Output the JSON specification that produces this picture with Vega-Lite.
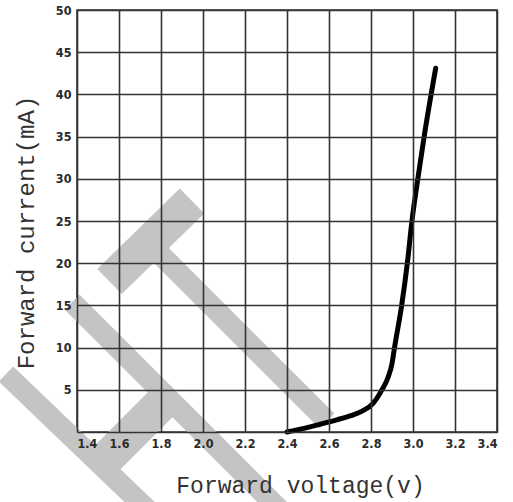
{
  "$schema": "https://vega.github.io/schema/vega-lite/v6.json",
  "width": 420,
  "height": 422,
  "autosize": {"type": "none"},
  "padding": {"left": 77, "top": 10, "right": 16, "bottom": 70},
  "background": "white",
  "config": {
    "view": {"stroke": "#333333", "strokeWidth": 1.6},
    "axis": {
      "grid": true,
      "gridColor": "#333333",
      "gridWidth": 1.6,
      "gridOpacity": 1,
      "domain": false,
      "ticks": false,
      "tickSize": 0,
      "labelFont": "DejaVu Sans Condensed",
      "labelFontSize": 12.5,
      "labelFontWeight": "bold",
      "labelColor": "#2a2a2a",
      "titleFont": "Liberation Mono",
      "titleFontWeight": "normal",
      "titleColor": "#333333"
    }
  },
  "datasets": {
    "curve": [
      {"voltage": 2.40, "current": 0.0},
      {"voltage": 2.50, "current": 0.55},
      {"voltage": 2.60, "current": 1.2},
      {"voltage": 2.70, "current": 1.9},
      {"voltage": 2.76, "current": 2.5},
      {"voltage": 2.81, "current": 3.4},
      {"voltage": 2.85, "current": 4.9},
      {"voltage": 2.88, "current": 6.4},
      {"voltage": 2.90, "current": 8.1},
      {"voltage": 2.912, "current": 10},
      {"voltage": 2.946, "current": 15},
      {"voltage": 2.973, "current": 20},
      {"voltage": 2.995, "current": 25},
      {"voltage": 3.023, "current": 30},
      {"voltage": 3.053, "current": 35},
      {"voltage": 3.108, "current": 43.1}
    ],
    "watermark": [
      {"part": "band", "x": 1.7464, "y": 22.30, "x2": 2.5905, "y2": 1.30},
      {"part": "band", "x": 1.0619, "y": 6.87, "x2": 1.7476, "y2": -9.48},
      {"part": "band", "x": 1.3762, "y": 15.40, "x2": 2.3905, "y2": -9.83},
      {"part": "bar", "x": 1.5548, "y": 17.83, "x2": 1.9476, "y2": 27.37},
      {"part": "bar", "x": 1.5024, "y": -4.09, "x2": 1.8310, "y2": 4.09}
    ]
  },
  "encoding": {
    "x": {
      "field": "voltage",
      "type": "quantitative",
      "scale": {"domain": [1.4, 3.4], "nice": false, "zero": false},
      "axis": {
        "zindex": 2,
        "values": [1.4, 1.6, 1.8, 2.0, 2.2, 2.4, 2.6, 2.8, 3.0, 3.2, 3.4],
        "format": ".1f",
        "labelPadding": 5,
        "title": "Forward voltage(v)",
        "titleFontSize": 23,
        "titleX": 223,
        "titleY": 60,
        "titleAlign": "center",
        "titleBaseline": "alphabetic"
      }
    },
    "y": {
      "field": "current",
      "type": "quantitative",
      "scale": {"domain": [0, 50], "nice": false},
      "axis": {
        "zindex": 2,
        "values": [0, 5, 10, 15, 20, 25, 30, 35, 40, 45, 50],
        "labelExpr": "datum.value == 0 ? '' : datum.label",
        "labelPadding": 6,
        "title": "Forward current(mA)",
        "titleFontSize": 24,
        "titleAngle": -90,
        "titleX": -51,
        "titleY": 222,
        "titleAlign": "center",
        "titleBaseline": "middle"
      }
    }
  },
  "layer": [
    {
      "data": {"name": "watermark"},
      "transform": [{"filter": "datum.part == 'band'"}],
      "mark": {"type": "rule", "color": "#c4c4c4", "strokeWidth": 21, "strokeCap": "butt", "clip": false, "zindex": 0},
      "encoding": {
        "x": {"field": "x", "type": "quantitative"},
        "y": {"field": "y", "type": "quantitative"},
        "x2": {"field": "x2"},
        "y2": {"field": "y2"}
      }
    },
    {
      "data": {"name": "watermark"},
      "transform": [{"filter": "datum.part == 'bar'"}],
      "mark": {"type": "rule", "color": "#c4c4c4", "strokeWidth": 35, "strokeCap": "butt", "clip": false, "zindex": 0},
      "encoding": {
        "x": {"field": "x", "type": "quantitative"},
        "y": {"field": "y", "type": "quantitative"},
        "x2": {"field": "x2"},
        "y2": {"field": "y2"}
      }
    },
    {
      "data": {"name": "curve"},
      "mark": {"type": "line", "color": "#000000", "strokeWidth": 5, "interpolate": "monotone", "strokeCap": "round", "strokeJoin": "round", "zindex": 3}
    }
  ]
}
